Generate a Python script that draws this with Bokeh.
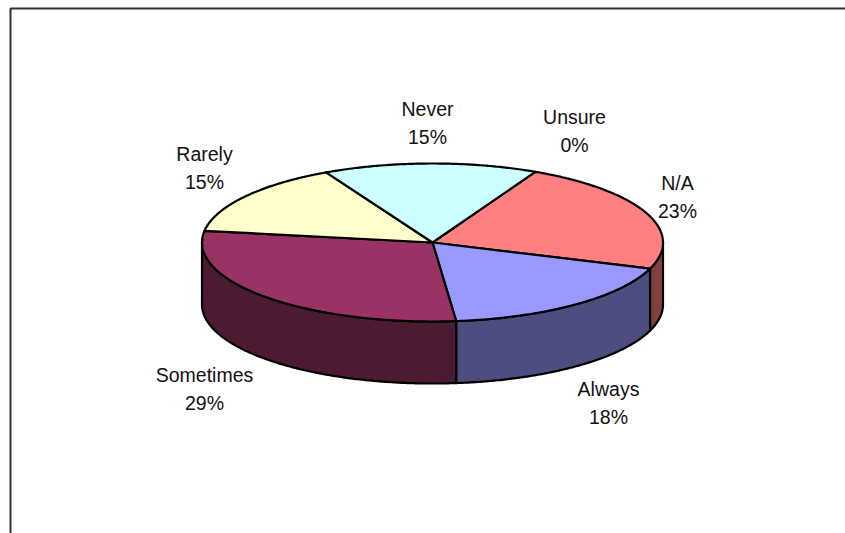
import numpy as np
from bokeh.core.properties import value
from bokeh.embed import file_html
from bokeh.models import Range1d
from bokeh.plotting import figure
from bokeh.resources import INLINE

# Survey answers, clockwise from the Unsure/N/A boundary
categories = ["N/A", "Always", "Sometimes", "Rarely", "Never", "Unsure"]
percentages = [23, 18, 29, 15, 15, 0]
top_colors = ["#ff8080", "#9999ff", "#993366", "#ffffcc", "#ccffff", "#ffffff"]
side_colors = ["#804040", "#4d4d80", "#4d1933", "#808066", "#668080", "#808080"]

# Text anchor (centre x, middle y of the name line) for each category
label_x = [677, 608, 204, 204, 427, 574]
label_y = [182, 388, 374, 153, 108, 116]
line_gap = 28

# Pie geometry in page pixels
cx, cy = 432.0, 242.0
rx, ry = 230.5, 79.0
depth = 62.0
start_angle = 26.5

p = figure(width=845, height=533, output_backend="svg", toolbar_location=None,
           x_range=Range1d(0, 845), y_range=Range1d(533, 0),
           min_border=0, outline_line_color=None, background_fill_color="white")
p.axis.visible = False
p.grid.visible = False


def rim(a0, a1, dy=0.0):
    """Points on the ellipse between two clockwise-from-top angles in degrees."""
    t = np.radians(np.linspace(a0, a1, max(2, int(abs(a1 - a0)) * 2 + 1)))
    return cx + rx * np.sin(t), cy + dy - ry * np.cos(t)


edges = start_angle + np.concatenate([[0], np.cumsum(percentages) * 3.6])
outline = dict(line_color="black", line_width=2.2, line_join="round")

# Chart frame: left and top rules only
p.line([10, 10, 845], [533, 8, 8], line_color="#333333", line_width=2)

# Outer wall on the front half of the rim
for a0, a1, color in zip(edges[:-1], edges[1:], side_colors):
    lo, hi = max(a0, 90), min(a1, 270)
    if hi <= lo:
        continue
    xt, yt = rim(lo, hi)
    xb, yb = rim(hi, lo, depth)
    p.patch(np.r_[xt, xb], np.r_[yt, yb], fill_color=color, **outline)

# Top faces
for a0, a1, color in zip(edges[:-1], edges[1:], top_colors):
    if a1 <= a0:
        continue
    xt, yt = rim(a0, a1)
    p.patch(np.r_[cx, xt], np.r_[cy, yt], fill_color=color, **outline)

# Category name with its percentage underneath
names_y = np.array(label_y, dtype=float)
text_style = dict(text_font=value("Liberation Sans"), text_font_size="19.5px",
                  text_color="#111111", text_align="center", text_baseline="middle")
p.text(label_x, names_y, text=categories, **text_style)
p.text(label_x, names_y + line_gap, text=[f"{v}%" for v in percentages], **text_style)

open("out.html", "w").write(file_html(p, INLINE))
